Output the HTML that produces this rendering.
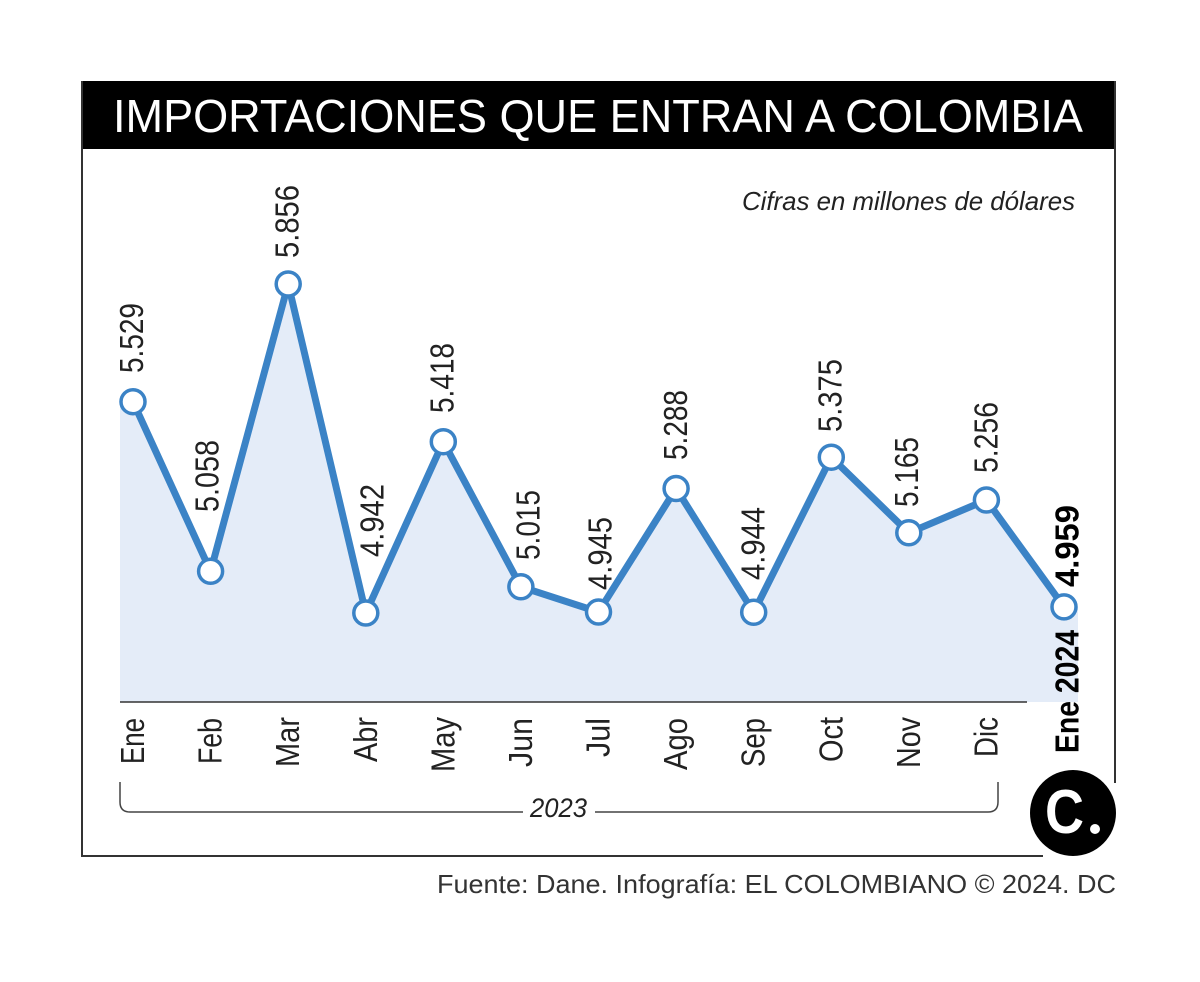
<!DOCTYPE html>
<html>
<head>
<meta charset="utf-8">
<style>
  html,body{margin:0;padding:0;background:#fff;}
  svg{display:block;}
  text{font-family:"Liberation Sans", sans-serif;}
</style>
</head>
<body>
<svg width="1200" height="982" viewBox="0 0 1200 982" xmlns="http://www.w3.org/2000/svg">
  <rect x="0" y="0" width="1200" height="982" fill="#ffffff"/>
  <!-- frame -->
  <rect x="82" y="81" width="1034" height="68" fill="#000"/>
  <text x="113" y="132" font-size="46" fill="#fff" textLength="970" lengthAdjust="spacingAndGlyphs">IMPORTACIONES QUE ENTRAN A COLOMBIA</text>
  <line x1="82" y1="81" x2="82" y2="857" stroke="#333" stroke-width="2"/>
  <line x1="81" y1="856" x2="1043" y2="856" stroke="#333" stroke-width="2"/>
  <line x1="1115" y1="81" x2="1115" y2="783" stroke="#333" stroke-width="2"/>

  <text x="742" y="210" font-size="26" font-style="italic" fill="#222" textLength="333" lengthAdjust="spacingAndGlyphs">Cifras en millones de dólares</text>

  <!-- area fill -->
  <polygon fill="#e4ecf8" points="120,702 120,401.7 133,401.7 210.6,571.3 288.2,284 365.8,613 443.3,441.7 520.9,586.8 598.5,612 676.1,488.5 753.7,612.3 831.3,457.2 908.8,532.8 986.4,500 1064,606.9 1078,606.9 1078,702"/>
  <line x1="120" y1="702" x2="1027" y2="702" stroke="#333" stroke-width="1.5"/>

  <!-- line -->
  <polyline fill="none" stroke="#3b83c6" stroke-width="7" stroke-linejoin="round" points="133,401.7 210.6,571.3 288.2,284 365.8,613 443.3,441.7 520.9,586.8 598.5,612 676.1,488.5 753.7,612.3 831.3,457.2 908.8,532.8 986.4,500 1064,606.9"/>
  <g fill="#fff" stroke="#3b83c6" stroke-width="3.5">
    <circle cx="133" cy="401.7" r="12"/>
    <circle cx="210.6" cy="571.3" r="12"/>
    <circle cx="288.2" cy="284" r="12"/>
    <circle cx="365.8" cy="613" r="12"/>
    <circle cx="443.3" cy="441.7" r="12"/>
    <circle cx="520.9" cy="586.8" r="12"/>
    <circle cx="598.5" cy="612" r="12"/>
    <circle cx="676.1" cy="488.5" r="12"/>
    <circle cx="753.7" cy="612.3" r="12"/>
    <circle cx="831.3" cy="457.2" r="12"/>
    <circle cx="908.8" cy="532.8" r="12"/>
    <circle cx="986.4" cy="500" r="12"/>
    <circle cx="1064" cy="606.9" r="12"/>
  </g>

  <!-- value labels -->
  <g font-size="33" fill="#222">
    <text transform="translate(143,373) rotate(-90)" textLength="70" lengthAdjust="spacingAndGlyphs">5.529</text>
    <text transform="translate(218.5,512) rotate(-90)" textLength="72" lengthAdjust="spacingAndGlyphs">5.058</text>
    <text transform="translate(298.5,258) rotate(-90)" textLength="73" lengthAdjust="spacingAndGlyphs">5.856</text>
    <text transform="translate(383.5,557) rotate(-90)" textLength="73" lengthAdjust="spacingAndGlyphs">4.942</text>
    <text transform="translate(453.5,413) rotate(-90)" textLength="70" lengthAdjust="spacingAndGlyphs">5.418</text>
    <text transform="translate(539.5,560) rotate(-90)" textLength="70" lengthAdjust="spacingAndGlyphs">5.015</text>
    <text transform="translate(611.5,590) rotate(-90)" textLength="73" lengthAdjust="spacingAndGlyphs">4.945</text>
    <text transform="translate(687,460) rotate(-90)" textLength="70" lengthAdjust="spacingAndGlyphs">5.288</text>
    <text transform="translate(764.5,580) rotate(-90)" textLength="73" lengthAdjust="spacingAndGlyphs">4.944</text>
    <text transform="translate(841.5,432) rotate(-90)" textLength="73" lengthAdjust="spacingAndGlyphs">5.375</text>
    <text transform="translate(918,507) rotate(-90)" textLength="70" lengthAdjust="spacingAndGlyphs">5.165</text>
    <text transform="translate(997.5,473) rotate(-90)" textLength="71" lengthAdjust="spacingAndGlyphs">5.256</text>
    <text transform="translate(1078.5,587) rotate(-90)" font-weight="bold" fill="#000" textLength="82" lengthAdjust="spacingAndGlyphs">4.959</text>
    <text transform="translate(1078.5,753) rotate(-90)" font-weight="bold" fill="#000" textLength="123" lengthAdjust="spacingAndGlyphs">Ene 2024</text>
  </g>

  <!-- month labels -->
  <g font-size="33" fill="#222">
    <text transform="translate(144,764) rotate(-90)" textLength="46" lengthAdjust="spacingAndGlyphs">Ene</text>
    <text transform="translate(221.6,764) rotate(-90)" textLength="46" lengthAdjust="spacingAndGlyphs">Feb</text>
    <text transform="translate(299.2,767) rotate(-90)" textLength="50" lengthAdjust="spacingAndGlyphs">Mar</text>
    <text transform="translate(376.8,762) rotate(-90)" textLength="45" lengthAdjust="spacingAndGlyphs">Abr</text>
    <text transform="translate(454.3,772) rotate(-90)" textLength="55" lengthAdjust="spacingAndGlyphs">May</text>
    <text transform="translate(531.9,767) rotate(-90)" textLength="49" lengthAdjust="spacingAndGlyphs">Jun</text>
    <text transform="translate(609.5,757) rotate(-90)" textLength="39" lengthAdjust="spacingAndGlyphs">Jul</text>
    <text transform="translate(687.1,770) rotate(-90)" textLength="52" lengthAdjust="spacingAndGlyphs">Ago</text>
    <text transform="translate(764.7,767) rotate(-90)" textLength="49" lengthAdjust="spacingAndGlyphs">Sep</text>
    <text transform="translate(842.3,762) rotate(-90)" textLength="45" lengthAdjust="spacingAndGlyphs">Oct</text>
    <text transform="translate(919.8,768) rotate(-90)" textLength="51" lengthAdjust="spacingAndGlyphs">Nov</text>
    <text transform="translate(997.4,757) rotate(-90)" textLength="40" lengthAdjust="spacingAndGlyphs">Dic</text>
  </g>

  <!-- bracket -->
  <path d="M120,782 V802 Q120,812 130,812 H523 M595,812 H988 Q998,812 998,802 V782" fill="none" stroke="#444" stroke-width="1.5"/>
  <text x="530" y="817" font-size="27" font-style="italic" fill="#222" textLength="57" lengthAdjust="spacingAndGlyphs">2023</text>

  <!-- logo -->
  <circle cx="1073" cy="813" r="43" fill="#000"/>
  <text x="1045" y="833" font-family="Liberation Serif, serif" font-weight="bold" font-size="62" fill="#fff" textLength="39" lengthAdjust="spacingAndGlyphs">C</text>
  <circle cx="1095" cy="829" r="5" fill="#fff"/>

  <!-- footer -->
  <text x="437" y="893" font-size="26" fill="#333" textLength="679" lengthAdjust="spacingAndGlyphs">Fuente: Dane. Infografía: EL COLOMBIANO © 2024. DC</text>
</svg>
</body>
</html>
